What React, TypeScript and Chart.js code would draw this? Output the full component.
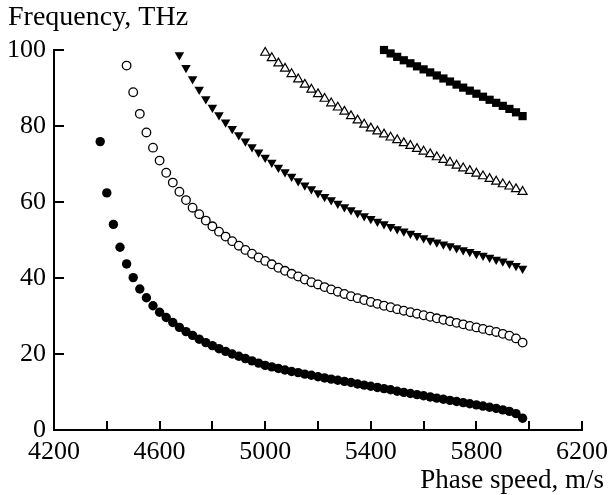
import React, { useEffect, useRef } from "react";
import { Chart, registerables } from "chart.js";

Chart.register(...registerables);

// Phase speed grid, m/s
const phaseSpeed = [
  4375, 4400, 4425, 4450, 4475, 4500, 4525, 4550, 4575, 4600, 4625, 4650, 4675,
  4700, 4725, 4750, 4775, 4800, 4825, 4850, 4875, 4900, 4925, 4950, 4975, 5000,
  5025, 5050, 5075, 5100, 5125, 5150, 5175, 5200, 5225, 5250, 5275, 5300, 5325,
  5350, 5375, 5400, 5425, 5450, 5475, 5500, 5525, 5550, 5575, 5600, 5625, 5650,
  5675, 5700, 5725, 5750, 5775, 5800, 5825, 5850, 5875, 5900, 5925, 5950, 5975,
];

// Frequencies, THz (each series ends at the last phase speed)
const mode1 = [
  75.9, 62.4, 54.1, 48.1, 43.7, 40.1, 37.1, 34.8, 32.7, 31.0, 29.6, 28.3, 27.0,
  25.9, 24.9, 23.9, 23.0, 22.2, 21.4, 20.7, 20.0, 19.4, 18.8, 18.2, 17.6, 17.0,
  16.6, 16.2, 15.8, 15.4, 15.1, 14.7, 14.4, 14.0, 13.7, 13.4, 13.1, 12.8, 12.5,
  12.1, 11.8, 11.5, 11.2, 10.9, 10.6, 10.2, 9.9, 9.6, 9.3, 9.0, 8.7, 8.4, 8.1,
  7.8, 7.5, 7.2, 6.9, 6.6, 6.3, 6.0, 5.7, 5.3, 4.9, 4.3, 3.1,
];
const mode2 = [
  95.9, 88.9, 83.2, 78.3, 74.3, 70.9, 67.7, 65.1, 62.7, 60.5, 58.5, 56.8, 55.1,
  53.6, 52.2, 50.9, 49.7, 48.5, 47.4, 46.4, 45.4, 44.5, 43.6, 42.7, 41.9, 41.1,
  40.4, 39.6, 38.9, 38.3, 37.6, 37.0, 36.4, 35.8, 35.2, 34.7, 34.2, 33.7, 33.2,
  32.7, 32.3, 31.8, 31.4, 31.0, 30.6, 30.2, 29.8, 29.4, 29.0, 28.6, 28.2, 27.8,
  27.4, 27.0, 26.6, 26.2, 25.8, 25.3, 24.8, 24.1, 23.0,
];
const mode3 = [
  98.7, 95.3, 92.4, 89.6, 87.1, 84.9, 82.9, 81.0, 79.3, 77.6, 76.0, 74.5, 73.1,
  71.7, 70.4, 69.1, 67.9, 66.7, 65.5, 64.4, 63.4, 62.4, 61.4, 60.5, 59.6, 58.7,
  57.9, 57.1, 56.3, 55.6, 54.9, 54.2, 53.5, 52.9, 52.3, 51.7, 51.1, 50.5, 49.9,
  49.4, 48.9, 48.4, 47.9, 47.4, 46.9, 46.4, 45.9, 45.4, 44.9, 44.4, 43.8, 43.2,
  42.5,
];
const mode4 = [
  99.3, 97.9, 96.5, 95.1, 93.7, 92.3, 90.9, 89.6, 88.4, 87.2, 86.0, 84.9, 83.8,
  82.6, 81.5, 80.4, 79.4, 78.6, 77.8, 77.0, 76.3, 75.5, 74.8, 74.0, 73.3, 72.6,
  71.8, 71.1, 70.4, 69.6, 68.9, 68.2, 67.5, 66.8, 66.1, 65.4, 64.7, 64.1, 63.4,
  62.7,
];
const mode5 = [
  100.0, 99.1, 98.2, 97.3, 96.5, 95.7, 94.9, 94.1, 93.3, 92.5, 91.7, 90.9, 90.1,
  89.3, 88.5, 87.7, 86.9, 86.1, 85.3, 84.5, 83.6, 82.6,
];

const xLabelled = [4200, 4600, 5000, 5400, 5800, 6200];
const yLabelled = [0, 20, 40, 60, 80, 100];

const yTitle = "Frequency, THz";
const xTitle = "Phase speed, m/s";

const FONT = "'Liberation Serif', 'Times New Roman', serif";

const toPoints = (ys: number[]) =>
  ys.map((y, i) => ({ x: phaseSpeed[phaseSpeed.length - ys.length + i], y }));

const inwardTicks = {
  id: "inwardTicks",
  afterDatasetsDraw(chart: any) {
    const { ctx, chartArea, scales } = chart;
    const xs = scales.x;
    const ys = scales.y;
    ctx.save();
    ctx.strokeStyle = "#000000";
    ctx.lineWidth = 2;
    ctx.lineCap = "butt";
    for (const t of xs.ticks) {
      const px = Math.round(xs.getPixelForValue(t.value));
      ctx.beginPath();
      ctx.moveTo(px, chartArea.bottom);
      ctx.lineTo(px, chartArea.bottom - 9);
      ctx.stroke();
    }
    for (const t of ys.ticks) {
      const py = Math.round(ys.getPixelForValue(t.value));
      ctx.beginPath();
      ctx.moveTo(chartArea.left, py);
      ctx.lineTo(chartArea.left + 10, py);
      ctx.stroke();
    }
    ctx.restore();
  },
  afterDraw(chart: any) {
    const { ctx } = chart;
    ctx.save();
    ctx.fillStyle = "#000";
    ctx.font = `28px ${FONT}`;
    ctx.textBaseline = "alphabetic";
    ctx.textAlign = "left";
    ctx.fillText(yTitle, 8, 25);
    ctx.font = `27px ${FONT}`;
    ctx.textAlign = "right";
    ctx.fillText(xTitle, 604, 488);
    ctx.restore();
  },
};

export default function App() {
  const ref = useRef<HTMLCanvasElement | null>(null);

  useEffect(() => {
    document.body.style.margin = "0";
    const canvas = ref.current;
    if (!canvas) return;
    const common = { showLine: false, clip: false as any };
    const chart = new Chart(canvas, {
      type: "scatter",
      data: {
        datasets: [
          {
            ...common,
            data: toPoints(mode1),
            pointStyle: "circle",
            pointRadius: 4.7,
            pointBackgroundColor: "#000",
            pointBorderColor: "#000",
            pointBorderWidth: 0,
          },
          {
            ...common,
            data: toPoints(mode2),
            pointStyle: "circle",
            pointRadius: 4.3,
            pointBackgroundColor: "#fff",
            pointBorderColor: "#000",
            pointBorderWidth: 1.3,
          },
          {
            ...common,
            data: toPoints(mode3),
            pointStyle: "triangle",
            pointRotation: 180,
            pointRadius: 5.5,
            pointBackgroundColor: "#000",
            pointBorderColor: "#000",
            pointBorderWidth: 0,
          },
          {
            ...common,
            data: toPoints(mode4),
            pointStyle: "triangle",
            pointRadius: 5.2,
            pointBackgroundColor: "#fff",
            pointBorderColor: "#000",
            pointBorderWidth: 1.2,
          },
          {
            ...common,
            data: toPoints(mode5),
            pointStyle: "rect",
            pointRadius: 5.8,
            pointBackgroundColor: "#000",
            pointBorderColor: "#000",
            pointBorderWidth: 0,
          },
        ] as any,
      },
      options: {
        animation: false,
        responsive: false,
        devicePixelRatio: 1,
        layout: { padding: { top: 50, right: 27, left: 0, bottom: 0 } },
        plugins: {
          legend: { display: false },
          tooltip: { enabled: false },
        },
        scales: {
          x: {
            type: "linear",
            min: 4200,
            max: 6200,
            grid: { display: false, drawTicks: false },
            border: { display: true, color: "#000", width: 2 },
            ticks: {
              stepSize: 200,
              autoSkip: false,
              maxRotation: 0,
              padding: 7,
              color: "#000",
              font: { family: FONT, size: 26 },
              callback: (v: any) => (xLabelled.includes(Number(v)) ? String(v) : ""),
            },
            afterFit: (s: any) => {
              s.height = 65;
              s.paddingLeft = 0;
              s.paddingRight = 0;
            },
          },
          y: {
            type: "linear",
            min: 0,
            max: 100,
            grid: { display: false, drawTicks: false },
            border: { display: true, color: "#000", width: 2 },
            ticks: {
              stepSize: 20,
              padding: 8,
              color: "#000",
              font: { family: FONT, size: 26 },
              callback: (v: any) => (yLabelled.includes(Number(v)) ? String(v) : ""),
            },
            afterFit: (s: any) => {
              s.width = 54;
              s.paddingTop = 0;
              s.paddingBottom = 0;
            },
          },
        },
      },
      plugins: [inwardTicks],
    });
    return () => chart.destroy();
  }, []);

  return (
    <div style={{ width: 609, height: 495, background: "#fff" }}>
      <canvas ref={ref} width={609} height={495} style={{ display: "block" }} />
    </div>
  );
}
